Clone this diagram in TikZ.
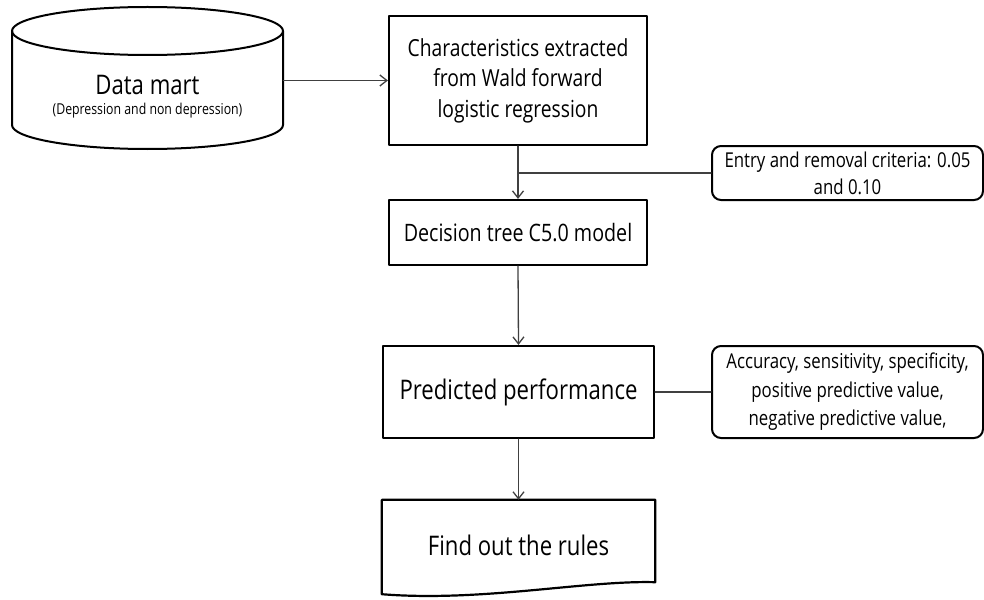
\documentclass[tikz,border=0pt]{standalone}
\usepackage{fontspec}
\setmainfont{Open Sans}[FakeStretch=0.82]
\usetikzlibrary{arrows.meta,calc}
\begin{document}
\begin{tikzpicture}[x=1pt, y=-1pt, line join=round, line cap=round,
	>={Straight Barb[length=7pt,width=11pt]},
	box/.style={draw, line width=2.2pt, minimum width=#1, align=center, inner sep=0pt},
	note/.style={draw, line width=2pt, rounded corners=9pt, minimum width=271pt, minimum height=54pt, align=center, inner sep=0pt},
	link/.style={line width=1.3pt, black!75}]
	\useasboundingbox (0,0) rectangle (984,599);
	% data mart cylinder
	\draw[line width=2pt] (12,31) -- (12,125) arc[start angle=180, end angle=0, x radius=135.5, y radius=24] -- (283,31);
	\draw[line width=2pt] (147.5,31) ellipse [x radius=135.5, y radius=24];
	\node[font=\fontsize{27}{30}\selectfont, minimum width=271pt] (mart) at (147.5,85) {Data mart};
	\node[font=\fontsize{15}{16}\selectfont] (martsub) at (147.5,111) {(Depression and non depression)};
	% main steps
	\node[box=258pt, minimum height=129pt, font=\fontsize{23.5}{30.5}\selectfont] (feat) at (518,80.5) {Characteristics extracted\\from Wald forward\\logistic regression};
	\node[box=258pt, minimum height=65pt, font=\fontsize{24}{26}\selectfont] (tree) at (518,232.5) {Decision tree C5.0 model};
	\node[box=271pt, minimum height=92pt, font=\fontsize{27}{30}\selectfont] (perf) at (518.5,392) {Predicted performance};
	\node[minimum width=273pt, minimum height=90pt, font=\fontsize{27}{30}\selectfont] (rules) at (518.5,545) {Find out the rules};
	\draw[line width=2.2pt] (rules.north west) -- (rules.north east) -- ($(rules.south east)+(0,-8)$)
		.. controls ($(rules.south east)+(-70,-10)$) and ($(rules.south west)+(100,12)$) .. ($(rules.south west)+(0,4)$) -- cycle;
	% side notes
	\node[note, font=\fontsize{20.5}{27}\selectfont] (crit) at (847.5,173) {Entry and removal criteria: 0.05\\and 0.10};
	\node[note, minimum height=92pt, font=\fontsize{20.5}{28.5}\selectfont] (meas) at (847.5,392) {Accuracy, sensitivity, specificity,\\positive predictive value,\\negative predictive value,};
	% connectors
	\draw[link,->] (feat.west -| mart.east) -- (feat.west);
	\draw[link,->] (feat.south) -- (tree.north);
	\draw[link] (crit.west) -- (crit.west -| feat.south);
	\draw[link,->] (tree.south) -- (perf.north);
	\draw[link] (perf.east) -- (meas.west);
	\draw[link,->] (perf.south) -- (rules.north);
\end{tikzpicture}
\end{document}
